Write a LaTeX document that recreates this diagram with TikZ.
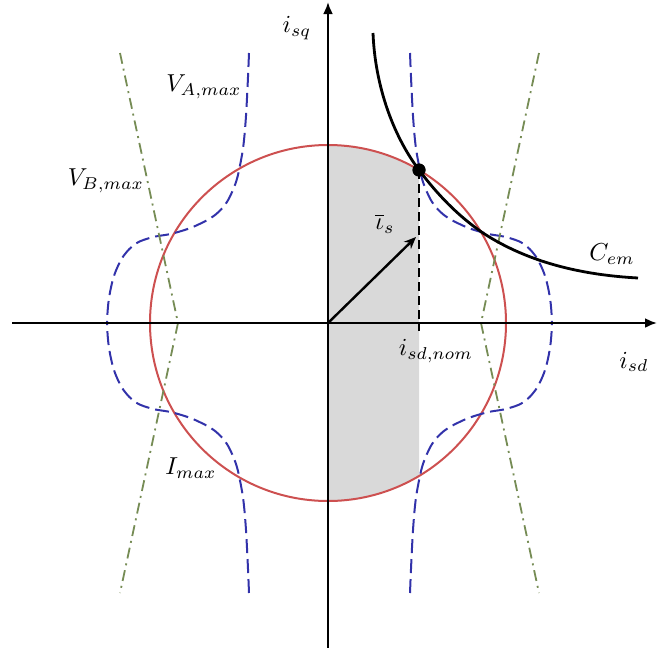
\documentclass[tikz,border=0pt]{standalone}
\usetikzlibrary{arrows.meta}
\definecolor{imaxred}{RGB}{205,80,80}
\definecolor{vablue}{RGB}{50,50,170}
\definecolor{vbgreen}{RGB}{118,140,85}
\definecolor{regiongray}{RGB}{217,217,217}
\begin{document}
\begin{tikzpicture}[x=1pt,y=1pt,
  axisline/.style={line width=2.3pt,-{Latex[length=12pt,width=10pt]}},
  imaxline/.style={draw=imaxred,line width=2pt},
  valine/.style={draw=vablue,line width=2pt,dash pattern=on 14pt off 6pt},
  vbline/.style={draw=vbgreen,line width=1.8pt,dash pattern=on 11pt off 5pt on 2pt off 5pt},
  cemline/.style={draw=black,line width=2.8pt},
  nomline/.style={draw=black,line width=2.4pt,dash pattern=on 9pt off 5pt},
  vecline/.style={draw=black,line width=2.4pt,-{Stealth[length=12pt,width=10pt]}},
  lbl/.style={scale=2.45,transform shape,inner sep=0pt}]
\useasboundingbox (0,-648) rectangle (659,0);
\coordinate (O) at (328,-323);
% shaded region
\begin{scope}
  \clip (328,-600) rectangle (419,0);
  \fill[regiongray] (O) circle (178);
\end{scope}
% current limit circle
\draw[imaxline] (O) circle (178);
% V_A,max curves
\foreach \sx/\sy in {1/1,-1/1,1/-1,-1/-1}{
  \begin{scope}[shift={(329.5,-323)},xscale=\sx,yscale=\sy]
    \draw[valine] plot[smooth,tension=0.7] coordinates {(80.5,270) (84,200) (89,160) (97,132) (110,112) (130,99) (155,90) (180,85) (198,76) (212,56) (220,28) (222.5,0)};
  \end{scope}
}
% V_B,max lines
\coordinate (gl1) at (120,-53);
\coordinate (gl2) at (178,-323);
\coordinate (gl3) at (120,-593);
\coordinate (gr1) at (539,-53);
\coordinate (gr2) at (481,-323);
\coordinate (gr3) at (539,-593);
\draw[vbline] (gl1) -- (gl2) -- (gl3);
\draw[vbline] (gr1) -- (gr2) -- (gr3);
% axes
\coordinate (xa) at (12,-323);
\coordinate (xb) at (657,-323);
\coordinate (ya) at (328,-648);
\coordinate (yb) at (328,-2);
\draw[axisline] (xa) -- (xb);
\draw[axisline] (ya) -- (yb);
% C_em
\coordinate (c0) at (373,-33);
\coordinate (c2) at (483,-233);
\coordinate (c3) at (638,-278);
\node[circle,fill=black,inner sep=0pt,minimum size=13pt] (dot) at (419,-170) {};
\draw[cemline] (c0) .. controls (375,-84) and (392,-134) .. (dot.center)
  .. controls (437,-194) and (458,-216) .. (c2)
  .. controls (529,-263) and (583,-275) .. (c3);
\node[circle,fill=black,inner sep=0pt,minimum size=13pt] at (dot) {};
% operating point
\coordinate (nom) at (419,-323);
\coordinate (tick) at (419,-331);
\draw[nomline] (dot.center) -- (nom);
\draw[line width=2.2pt] (nom) -- (tick);
\coordinate (tip) at (416,-237);
\draw[vecline] (O) -- (tip);
% labels
\node[lbl] (lsq) at (297,-28) {$i_{sq}$};
\node[lbl] (lsd) at (634,-362) {$i_{sd}$};
\node[lbl] (lnom) at (436,-351) {$i_{sd,nom}$};
\node[lbl] (lcem) at (612,-254) {$C_{em}$};
\node[lbl] (lis) at (385,-224) {$\overline{\iota}_s$};
\node[lbl] (lva) at (204,-87) {$V_{A,max}$};
\node[lbl] (lvb) at (106,-181) {$V_{B,max}$};
\node[lbl] (lim) at (191,-468) {$I_{max}$};
\end{tikzpicture}
\end{document}
